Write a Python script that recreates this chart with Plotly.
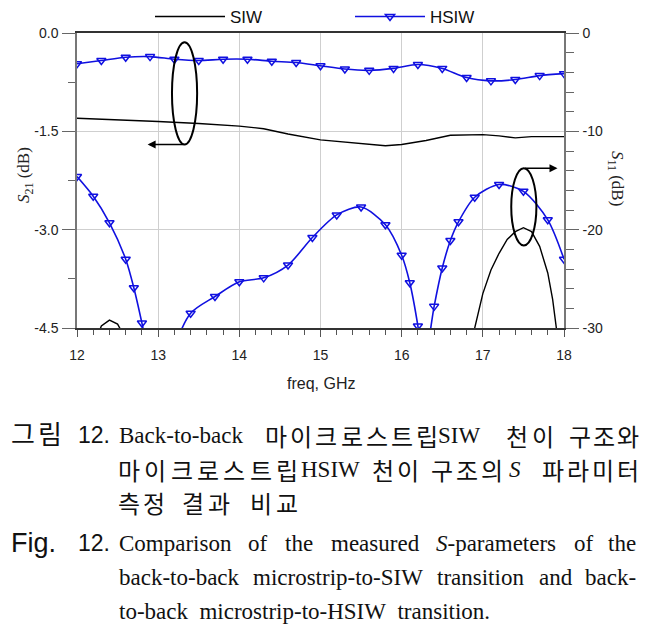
import plotly.graph_objects as go

# ---------------- data ----------------
freq_hsiw_s21 = [12.0, 12.3, 12.6, 12.9, 13.2, 13.5, 13.8, 14.1, 14.4, 14.7, 15.0,
                 15.3, 15.6, 15.9, 16.2, 16.5, 16.8, 17.1, 17.4, 17.7, 18.0]
hsiw_s21 = [-0.47, -0.42, -0.37, -0.36, -0.40, -0.42, -0.40, -0.40, -0.43, -0.45, -0.50,
            -0.55, -0.57, -0.54, -0.48, -0.54, -0.68, -0.73, -0.71, -0.65, -0.62]

freq_siw_s21 = [12.0, 12.5, 13.0, 13.5, 14.0, 14.3, 14.6, 15.0, 15.4, 15.8, 16.0,
                16.3, 16.6, 17.0, 17.2, 17.4, 17.6, 18.0]
siw_s21 = [-1.30, -1.32, -1.35, -1.38, -1.42, -1.46, -1.54, -1.63, -1.67, -1.72, -1.70,
           -1.64, -1.56, -1.55, -1.57, -1.60, -1.58, -1.58]

freq_hsiw_s11 = [12.0, 12.2, 12.4, 12.6, 12.7, 12.8, 12.9, 13.05, 13.2, 13.4, 13.7, 14.0,
                 14.3, 14.6, 14.9, 15.2, 15.5, 15.8, 16.0, 16.1, 16.2, 16.27, 16.4, 16.5,
                 16.6, 16.7, 16.9, 17.2, 17.5, 17.8, 18.0]
hsiw_s11 = [-14.6, -16.6, -19.3, -23.0, -25.9, -29.5, -33.5, -37.0, -32.0, -28.5, -26.8, -25.3,
            -24.9, -23.6, -20.8, -18.5, -17.7, -19.5, -22.6, -25.4, -29.8, -34.0, -27.8, -23.9,
            -21.1, -19.2, -16.7, -15.4, -16.1, -19.0, -23.0]

freq_siw_s11 = [12.0, 12.2, 12.3, 12.4, 12.5, 12.56, 12.7, 13.0, 14.0, 16.0, 16.8, 16.9,
                17.0, 17.1, 17.2, 17.3, 17.4, 17.5, 17.6, 17.7, 17.8, 17.86, 17.9, 17.95, 18.0]
siw_s11 = [-36.0, -32.0, -29.8, -29.2, -29.6, -30.5, -34.0, -38.0, -40.0, -40.0, -34.0, -30.0,
           -26.5, -24.1, -22.4, -21.0, -20.2, -19.8, -20.2, -21.7, -24.4, -27.1, -30.0, -33.0, -36.0]

left_tickvals = [0.0, -1.5, -3.0, -4.5]
left_ticktext = ["0.0", "-1.5", "-3.0", "-4.5"]
right_tickvals = [0, -10, -20, -30]
right_ticktext = ["0", "-10", "-20", "-30"]
x_tickvals = [12, 13, 14, 15, 16, 17, 18]

BLUE = "#1010e0"
SANS = "Liberation Sans, Arial, sans-serif"
SERIF = "Liberation Serif, Noto Sans CJK KR, serif"
KO = "Noto Sans CJK KR, sans-serif"
KOS = "Liberation Sans, Noto Sans CJK KR, sans-serif"

fig = go.Figure()
fig.add_trace(go.Scatter(x=freq_siw_s21, y=siw_s21, mode="lines", name="SIW",
                         line=dict(color="black", width=1.4), yaxis="y"))
fig.add_trace(go.Scatter(x=freq_hsiw_s21, y=hsiw_s21, mode="lines+markers", name="HSIW",
                         line=dict(color=BLUE, width=1.6, shape="spline", smoothing=0.8),
                         marker=dict(symbol="triangle-down-open", size=8, color=BLUE,
                                     line=dict(width=1.5, color=BLUE)), yaxis="y"))
fig.add_trace(go.Scatter(x=freq_siw_s11, y=siw_s11, mode="lines", showlegend=False,
                         line=dict(color="black", width=1.4), yaxis="y2"))
fig.add_trace(go.Scatter(x=freq_hsiw_s11, y=hsiw_s11, mode="lines+markers", showlegend=False,
                         line=dict(color=BLUE, width=1.6, shape="spline", smoothing=0.8),
                         marker=dict(symbol="triangle-down-open", size=8, color=BLUE,
                                     line=dict(width=1.5, color=BLUE)), yaxis="y2"))

L, R, T, B = 77, 89, 33, 303
PW, PH = 653 - L - R, 631 - T - B


def px(x):
    return (x - L) / PW


def py(y):
    return (T + PH - y) / PH


ann = []


def word(text, x, y, size, family, anchor="left"):
    ann.append(dict(text=text, x=px(x), y=py(y), xref="paper", yref="paper",
                    xanchor=anchor, yanchor="middle", showarrow=False,
                    font=dict(size=size, family=family, color="#111")))


def spaced(text, x0, x1, y, size, family=KO):
    n = len(text)
    pitch = (x1 - x0) / n
    for i, ch in enumerate(text):
        ann.append(dict(text=ch, x=px(x0 + pitch * (i + 0.5)), y=py(y), xref="paper",
                        yref="paper", xanchor="center", yanchor="middle", showarrow=False,
                        font=dict(size=size, family=family, color="#111")))


KS = 24
ES = 23
Y1, Y2, Y3, Y4, Y5, Y6 = 435, 469, 502, 543, 577, 611
# line 1
spaced("그림", 9, 64, Y1, 26, KOS)
word("12.", 76, Y1, 23, SANS)
word("Back-to-back", 117, Y1, ES, SERIF)
spaced("마이크로스트립", 263, 440, Y1, KS)
word("SIW", 436, Y1, ES, SERIF)
spaced("천이", 504, 556, Y1, KS)
spaced("구조와", 568, 640, Y1, KS)
# line 2
spaced("마이크로스트립", 116, 300, Y2, KS)
word("HSIW", 299, Y2, ES, SERIF)
spaced("천이", 370, 420, Y2, KS)
spaced("구조의", 430, 504, Y2, KS)
word("<i>S</i>", 507, Y2, ES, SERIF)
spaced("파라미터", 540, 640, Y2, KS)
# line 3
spaced("측정", 116, 166, Y3, KS)
spaced("결과", 180, 232, Y3, KS)
spaced("비교", 248, 300, Y3, KS)
# line 4
word("Fig.", 9, Y4, 27, SANS)
word("12.", 76, Y4, 23, SANS)
for t, x in [("Comparison", 117), ("of", 246), ("the", 283), ("measured", 329),
             ("<i>S</i>-parameters", 434), ("of", 572)]:
    word(t, x, Y4, ES, SERIF)
word("the", 638, Y4, ES, SERIF, "right")
# line 5
for t, x in [("back-to-back", 117), ("microstrip-to-SIW", 251), ("transition", 435),
             ("and", 537)]:
    word(t, x, Y5, ES, SERIF)
word("back-", 638, Y5, ES, SERIF, "right")
# line 6
word("to-back&nbsp;&nbsp;microstrip-to-HSIW&nbsp;&nbsp;transition.", 117, Y6, ES, SERIF)

# axis titles
ann.append(dict(text="<i>S</i><sub>21</sub> (dB)", x=px(25), y=py(175), xref="paper",
                yref="paper", textangle=-90, showarrow=False, xanchor="center",
                yanchor="middle", font=dict(size=17, family=SERIF, color="#222")))
ann.append(dict(text="<i>S</i><sub>11</sub> (dB)", x=px(616), y=py(178), xref="paper",
                yref="paper", textangle=90, showarrow=False, xanchor="center",
                yanchor="middle", font=dict(size=17, family=SERIF, color="#222")))
ann.append(dict(text="freq, GHz", x=0.5, y=py(383), xref="paper", yref="paper",
                showarrow=False, xanchor="center", yanchor="middle",
                font=dict(size=16, family=SANS, color="#222")))

# arrows
ann.append(dict(x=12.87, y=-1.70, ax=13.33, ay=-1.70, xref="x", yref="y", axref="x", ayref="y",
                text="", showarrow=True, arrowhead=2, arrowsize=1, arrowwidth=1.6,
                arrowcolor="black"))
ann.append(dict(x=17.92, y=-13.75, ax=17.5, ay=-13.75, xref="x", yref="y2", axref="x",
                ayref="y2", text="", showarrow=True, arrowhead=2, arrowsize=1,
                arrowwidth=1.6, arrowcolor="black"))

shapes = [
    dict(type="circle", xref="x", yref="y", x0=13.17, x1=13.48, y0=-1.70, y1=-0.14,
         line=dict(color="black", width=2)),
    dict(type="circle", xref="x", yref="y2", x0=17.35, x1=17.66, y0=-21.6, y1=-13.75,
         line=dict(color="black", width=2)),
]

tickfont = dict(size=14, family=SANS, color="#222")
fig.update_layout(
    width=653, height=631, margin=dict(l=L, r=R, t=T, b=B, autoexpand=False),
    paper_bgcolor="white", plot_bgcolor="white",
    showlegend=True,
    legend=dict(orientation="h", x=px(150), y=py(17), xanchor="left", yanchor="middle",
                font=dict(size=17, family=SANS, color="#111"), itemwidth=70,
                entrywidth=115, bgcolor="rgba(0,0,0,0)"),
    xaxis=dict(range=[12, 18], tickvals=x_tickvals, showgrid=True, gridcolor="#cfcfcf",
               gridwidth=1, zeroline=False, showline=True, linecolor="#333", linewidth=1.5,
               mirror=True, ticks="outside", ticklen=7, tickcolor="#555", tickfont=tickfont,
               ticklabelstandoff=6, automargin=False,
               minor=dict(dtick=0.2, tick0=12, ticks="outside", ticklen=5, tickcolor="#555",
                          showgrid=False)),
    yaxis=dict(range=[-4.5, 0], tickvals=left_tickvals, ticktext=left_ticktext,
               showgrid=True, gridcolor="#cfcfcf", zeroline=False, showline=True,
               linecolor="#777", linewidth=1.5, ticks="outside", ticklen=13,
               tickcolor="#666", tickfont=tickfont, ticklabelstandoff=1, automargin=False,
               minor=dict(dtick=0.75, tick0=0, ticks="outside", ticklen=7,
                          tickcolor="#666", showgrid=False)),
    yaxis2=dict(range=[-30, 0], tickvals=right_tickvals, ticktext=right_ticktext,
                overlaying="y", side="right", showgrid=False, zeroline=False,
                showline=True, linecolor="#777", linewidth=1.5, ticks="outside",
                ticklen=13, tickcolor="#666", tickfont=tickfont, ticklabelstandoff=1,
                automargin=False,
                minor=dict(dtick=2, tick0=0, ticks="outside", ticklen=8, tickcolor="#666")),
    annotations=ann, shapes=shapes,
)

fig.write_html("out.html", config={"displayModeBar": False},
               post_script="document.body.style.margin='0';document.body.style.padding='0';")
